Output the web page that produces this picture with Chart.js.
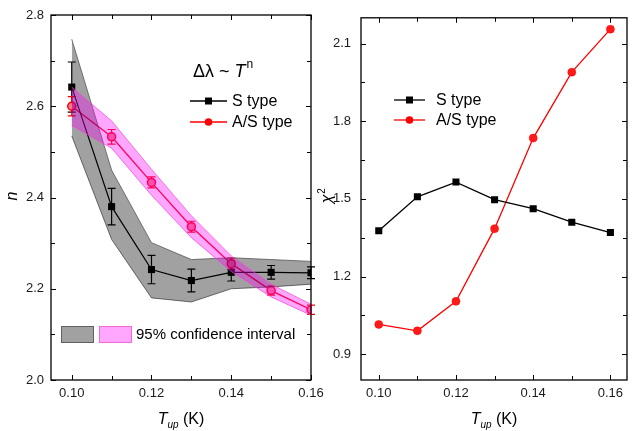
<!DOCTYPE html>
<html><head><meta charset="utf-8">
<script src="https://cdn.jsdelivr.net/npm/chart.js@4/dist/chart.umd.min.js"></script>
<style>
html,body{margin:0;padding:0;background:#fff;width:632px;height:431px;overflow:hidden}
#c1{position:absolute;left:0;top:0}
#c2{position:absolute;left:316px;top:0}
</style></head><body>
<canvas id="c1" width="330" height="431"></canvas>
<canvas id="c2" width="316" height="431"></canvas>
<script>
// ---- data ----
const tUp = [0.10, 0.11, 0.12, 0.13, 0.14, 0.15, 0.16];
const nS = [2.642, 2.380, 2.242, 2.218, 2.236, 2.236, 2.235];
const nSErr = [0.055, 0.040, 0.031, 0.025, 0.019, 0.015, 0.013];
const nSBandHi = [2.747, 2.460, 2.301, 2.264, 2.268, 2.264, 2.260];
const nSBandLo = [2.535, 2.308, 2.180, 2.171, 2.200, 2.204, 2.210];
const nAS = [2.600, 2.533, 2.433, 2.336, 2.255, 2.196, 2.154];
const nASErr = [0.021, 0.016, 0.012, 0.012, 0.012, 0.010, 0.010];
const nASBandHi = [2.642, 2.568, 2.462, 2.360, 2.272, 2.210, 2.166];
const nASBandLo = [2.558, 2.508, 2.405, 2.312, 2.238, 2.182, 2.142];
const chiS = [1.377, 1.508, 1.565, 1.497, 1.462, 1.410, 1.370];
const chiAS = [1.015, 0.990, 1.104, 1.385, 1.735, 1.990, 2.156];
const xTicks = [0.10, 0.12, 0.14, 0.16];
const xMinor = [0.11, 0.13, 0.15];
const nTicks = [2.0, 2.2, 2.4, 2.6, 2.8];
const nMinor = [2.1, 2.3, 2.5, 2.7];
const chiTicks = [0.9, 1.2, 1.5, 1.8, 2.1];
const chiMinor = [1.05, 1.35, 1.65, 1.95];

const FONT = "'Liberation Sans', Arial, sans-serif";
const pts = (ys) => tUp.map((t, i) => ({x: t, y: ys[i]}));

const GRAY_FILL = 'rgba(0,0,0,0.37)';
const GRAY_EDGE = 'rgba(70,70,70,0.7)';
const PINK_FILL = 'rgba(255,0,255,0.35)';
const PINK_EDGE = 'rgba(240,80,200,0.7)';

// frame with inward ticks
const framePlugin = {
  id: 'frame',
  afterDraw(chart, args, o) {
    const {ctx, chartArea: a, scales: {x, y}} = chart;
    ctx.save();
    ctx.strokeStyle = '#000';
    ctx.lineWidth = 1.3;
    ctx.strokeRect(a.left, a.top, a.right - a.left, a.bottom - a.top);
    ctx.lineWidth = 1;
    ctx.beginPath();
    const xt = (vals, len) => vals.forEach(v => {
      const p = Math.round(x.getPixelForValue(v)) + 0.5;
      ctx.moveTo(p, a.bottom); ctx.lineTo(p, a.bottom - len);
      ctx.moveTo(p, a.top); ctx.lineTo(p, a.top + len);
    });
    const yt = (vals, len) => vals.forEach(v => {
      const p = Math.round(y.getPixelForValue(v)) + 0.5;
      ctx.moveTo(a.left, p); ctx.lineTo(a.left + len, p);
      ctx.moveTo(a.right, p); ctx.lineTo(a.right - len, p);
    });
    xt(o.xMaj, 5); xt(o.xMin, 4);
    yt(o.yMaj, 5); yt(o.yMin, 4);
    ctx.stroke();
    ctx.restore();
  }
};

// error bars from dataset.errors
const errPlugin = {
  id: 'errbars',
  beforeDatasetsDraw(chart) {
    const {ctx, scales: {x, y}} = chart;
    ctx.save();
    chart.data.datasets.forEach(ds => {
      if (!ds.errors) return;
      ctx.strokeStyle = ds.borderColor;
      ctx.lineWidth = 1.2;
      ctx.beginPath();
      ds.data.forEach((p, i) => {
        const px = x.getPixelForValue(p.x);
        const y1 = y.getPixelForValue(p.y + ds.errors[i]);
        const y2 = y.getPixelForValue(p.y - ds.errors[i]);
        ctx.moveTo(px, y1); ctx.lineTo(px, y2);
        ctx.moveTo(px - 4, y1); ctx.lineTo(px + 4, y1);
        ctx.moveTo(px - 4, y2); ctx.lineTo(px + 4, y2);
      });
      ctx.stroke();
    });
    ctx.restore();
  }
};

function legendEntry(ctx, x0, x1, y, color, style, label, tx) {
  ctx.save();
  ctx.strokeStyle = color; ctx.lineWidth = 1.3;
  ctx.beginPath(); ctx.moveTo(x0, y); ctx.lineTo(x1, y); ctx.stroke();
  const mx = (x0 + x1) / 2;
  ctx.fillStyle = color;
  if (style === 'rect') ctx.fillRect(mx - 3.5, y - 3.5, 7, 7);
  else { ctx.beginPath(); ctx.arc(mx, y, 3.8, 0, Math.PI * 2); ctx.fill(); }
  ctx.fillStyle = '#000';
  ctx.font = '16px ' + FONT;
  ctx.textBaseline = 'middle';
  ctx.textAlign = 'left';
  ctx.fillText(label, tx, y + 1);
  ctx.restore();
}

function xTitle(ctx, cx, base) {
  ctx.save();
  ctx.fillStyle = '#000';
  ctx.textBaseline = 'alphabetic';
  const f1 = 'italic 16px ' + FONT, f2 = 'italic 10px ' + FONT, f3 = '16px ' + FONT;
  ctx.font = f1; const w1 = ctx.measureText('T').width;
  ctx.font = f2; const w2 = ctx.measureText('up').width;
  ctx.font = f3; const w3 = ctx.measureText(' (K)').width;
  let x = cx - (w1 + w2 + w3) / 2;
  ctx.font = f1; ctx.fillText('T', x, base); x += w1;
  ctx.font = f2; ctx.fillText('up', x, base + 4); x += w2;
  ctx.font = f3; ctx.fillText(' (K)', x, base);
  ctx.restore();
}

const textLeft = {
  id: 'textLeft',
  afterDraw(chart) {
    const {ctx, chartArea: a} = chart;
    xTitle(ctx, (a.left + a.right) / 2, 424);
    // y title
    ctx.save();
    ctx.translate(13, 196); ctx.rotate(-Math.PI / 2);
    ctx.font = 'italic 16px ' + FONT; ctx.fillStyle = '#000';
    ctx.textAlign = 'center'; ctx.textBaseline = 'middle';
    ctx.fillText('n', 0, 0);
    ctx.restore();
    // formula
    ctx.save();
    ctx.fillStyle = '#000'; ctx.textBaseline = 'alphabetic';
    let x = 193;
    ctx.font = '18px ' + FONT; ctx.fillText('Δλ ~ ', x, 77); x += ctx.measureText('Δλ ~ ').width;
    ctx.font = 'italic 18px ' + FONT; ctx.fillText('T', x, 77); x += ctx.measureText('T').width;
    ctx.font = '12px ' + FONT; ctx.fillText('n', x + 1, 68);
    ctx.restore();
    legendEntry(ctx, 190, 227, 101, '#000', 'rect', 'S type', 232);
    legendEntry(ctx, 190, 227, 122, '#ff0000', 'circle', 'A/S type', 232);
    // confidence legend
    ctx.save();
    ctx.fillStyle = GRAY_FILL; ctx.fillRect(61, 326, 33, 17);
    ctx.strokeStyle = GRAY_EDGE; ctx.lineWidth = 1; ctx.strokeRect(61.5, 326.5, 32, 16);
    ctx.fillStyle = PINK_FILL; ctx.fillRect(99, 326, 33, 17);
    ctx.strokeStyle = PINK_EDGE; ctx.strokeRect(99.5, 326.5, 32, 16);
    ctx.fillStyle = '#000'; ctx.font = '15px ' + FONT; ctx.textBaseline = 'middle';
    ctx.fillText('95% confidence interval', 136, 335);
    ctx.restore();
  }
};

const textRight = {
  id: 'textRight',
  afterDraw(chart) {
    const {ctx, chartArea: a} = chart;
    xTitle(ctx, (a.left + a.right) / 2, 424);
    ctx.save();
    ctx.translate(11, 196); ctx.rotate(-Math.PI / 2);
    ctx.fillStyle = '#000'; ctx.textBaseline = 'alphabetic';
    ctx.font = 'italic 16px ' + FONT;
    const w = ctx.measureText('χ').width;
    ctx.fillText('χ', -w / 2 - 3, 5);
    ctx.font = '10px ' + FONT;
    ctx.fillText('2', w / 2 - 2, -2);
    ctx.restore();
    legendEntry(ctx, 78, 109, 100, '#000', 'rect', 'S type', 120);
    legendEntry(ctx, 78, 109, 120, '#ff0000', 'circle', 'A/S type', 120);
  }
};

const tickFont = {family: FONT, size: 13};
const common = (xmin, xmax, ymin, ymax, yTicksArr, yPad, yW, xDigits, yDigits) => ({
  responsive: false, animation: false, devicePixelRatio: 1,
  events: [],
  plugins: {legend: {display: false}, tooltip: {enabled: false}},
  scales: {
    x: {type: 'linear', min: xmin, max: xmax,
      grid: {display: false, drawTicks: false}, border: {display: false},
      ticks: {color: '#1a1a1a', font: tickFont, padding: 6, maxRotation: 0,
        callback: v => v.toFixed(xDigits)},
      afterBuildTicks: s => { s.ticks = xTicks.map(v => ({value: v})); },
      afterFit: s => { s.height = 51; }},
    y: {type: 'linear', min: ymin, max: ymax,
      grid: {display: false, drawTicks: false}, border: {display: false},
      ticks: {color: '#1a1a1a', font: tickFont, padding: yPad,
        callback: v => v.toFixed(yDigits)},
      afterBuildTicks: s => { s.ticks = yTicksArr.map(v => ({value: v})); },
      afterFit: s => { s.width = yW; }}
  }
});

// ---- left chart ----
const opt1 = common(0.0948, 0.16, 2.0, 2.8, nTicks, 7, 51, 2, 1);
opt1.layout = {padding: {left: 0, right: 19, top: 15, bottom: 0}};
opt1.plugins.frame = {xMaj: xTicks, xMin: xMinor, yMaj: nTicks, yMin: nMinor};
new Chart(document.getElementById('c1'), {
  type: 'line',
  data: {datasets: [
    {label: 'S type', data: pts(nS), errors: nSErr, borderColor: '#000', borderWidth: 1.2,
      pointStyle: 'rect', pointRadius: 5, pointBackgroundColor: '#000', pointBorderWidth: 0, fill: false, order: 3},
    {label: 'A/S type', data: pts(nAS), errors: nASErr, borderColor: '#ff0000', borderWidth: 1.3,
      pointStyle: 'circle', pointRadius: 4, pointBackgroundColor: '#ff7a8a', pointBorderColor: '#ff0000',
      pointBorderWidth: 1.5, fill: false, order: 3},
    {label: 'S band hi', data: pts(nSBandHi), borderColor: GRAY_EDGE, borderWidth: 1, pointRadius: 0,
      fill: '+1', backgroundColor: GRAY_FILL, order: 1},
    {label: 'S band lo', data: pts(nSBandLo), borderColor: GRAY_EDGE, borderWidth: 1, pointRadius: 0,
      fill: false, order: 1},
    {label: 'A/S band hi', data: pts(nASBandHi), borderColor: PINK_EDGE, borderWidth: 1, pointRadius: 0,
      fill: '+1', backgroundColor: PINK_FILL, order: 0},
    {label: 'A/S band lo', data: pts(nASBandLo), borderColor: PINK_EDGE, borderWidth: 1, pointRadius: 0,
      fill: false, order: 0}
  ]},
  options: opt1,
  plugins: [errPlugin, framePlugin, textLeft]
});

// ---- right chart ----
const opt2 = common(0.0954, 0.1643, 0.8, 2.2, chiTicks, 10, 45, 2, 1);
opt2.layout = {padding: {left: 0, right: 1, top: 13, bottom: 0}};
opt2.plugins.frame = {xMaj: xTicks, xMin: xMinor, yMaj: chiTicks, yMin: chiMinor};
new Chart(document.getElementById('c2'), {
  type: 'line',
  data: {datasets: [
    {label: 'S type', data: pts(chiS), borderColor: '#000', borderWidth: 1.3,
      pointStyle: 'rect', pointRadius: 5, pointBackgroundColor: '#000', pointBorderWidth: 0, fill: false},
    {label: 'A/S type', data: pts(chiAS), borderColor: '#ff0000', borderWidth: 1.3,
      pointStyle: 'circle', pointRadius: 4, pointBackgroundColor: '#ff1a1a', pointBorderColor: '#ff0000',
      pointBorderWidth: 0.5, fill: false}
  ]},
  options: opt2,
  plugins: [framePlugin, textRight]
});
</script>
</body></html>
